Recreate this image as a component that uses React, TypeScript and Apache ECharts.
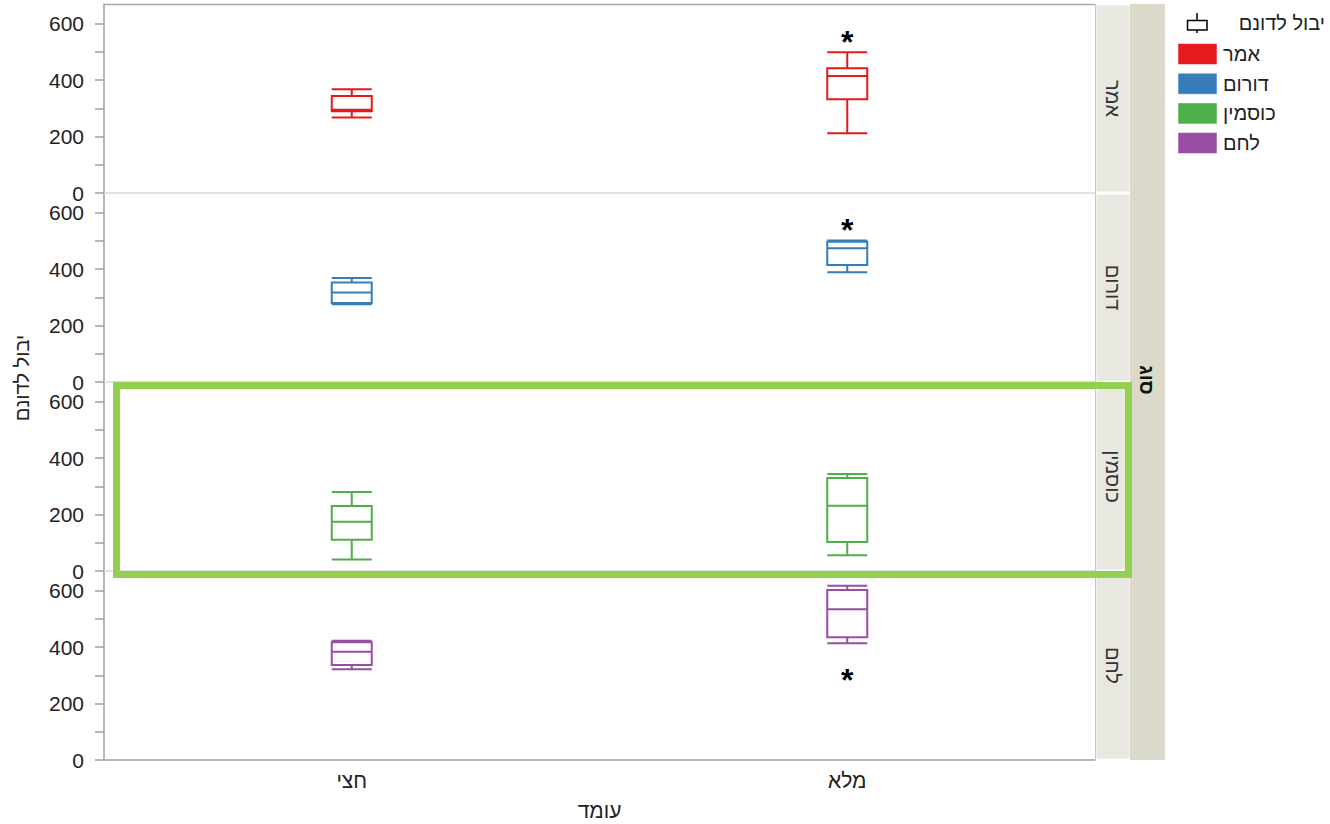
import React, { useEffect, useRef } from 'react';
import * as echarts from 'echarts';

const categories = ['חצי', 'מלא'];
const panelNames = ['אמר', 'דורום', 'כוסמין', 'לחם'];
const panelColors = ['#e41a1c', '#377eb8', '#4daf4a', '#984ea3'];
// [min, Q1, median, Q3, max] for חצי, מלא
const emmerBoxes = [[268, 290, 295, 344, 368], [212, 332, 415, 442, 499]];
const durumBoxes = [[276, 280, 317, 353, 369], [389, 415, 474, 497, 502]];
const kusminBoxes = [[41, 111, 175, 230, 280], [56, 103, 231, 330, 344]];
const lechemBoxes = [[322, 337, 384, 417, 423], [414, 435, 534, 603, 618]];
const emmerOutliers = [['מלא', 554]];
const durumOutliers = [['מלא', 557]];
const kusminOutliers: any[] = [];
const lechemOutliers = [['מלא', 301]];
const yLabelValues = [0, 200, 400, 600];
const yTickValues = [0, 100, 200, 300, 400, 500, 600];
const yAxisTitle = 'יבול לדונם';
const xAxisTitle = 'עומד';
const stripTitle = 'סוג';
const legendTitle = 'יבול לדונם';

const FONT = 'Liberation Sans, Arial, sans-serif';

export default function App() {
  const ref = useRef<HTMLDivElement>(null);
  useEffect(() => {
    if (!ref.current) return;
    const chart = echarts.init(ref.current, null, { renderer: 'svg' });
    const boxes = [emmerBoxes, durumBoxes, kusminBoxes, lechemBoxes];
    const outliers = [emmerOutliers, durumOutliers, kusminOutliers, lechemOutliers];
    const L = 104, W = 991, T0 = 4, H = 189, YMAX = 670;

    const grids = panelNames.map((_, i) => ({
      left: L, width: W, top: T0 + H * i, height: H, show: false,
    }));
    const xAxes = panelNames.map((_, i) => {
      const last = i === 3;
      return {
        type: 'category', gridIndex: i, data: categories, boundaryGap: true,
        axisLine: { show: true, lineStyle: { color: last ? '#a0a0a0' : '#d9d9d9', width: 1.5 } },
        axisTick: { show: false },
        axisLabel: { show: last, fontSize: 21, color: '#222', fontFamily: FONT, margin: 10 },
        name: last ? xAxisTitle : '', nameLocation: 'middle', nameGap: 40,
        nameTextStyle: { fontSize: 21, color: '#222', fontFamily: FONT },
        splitLine: { show: false },
      };
    });
    const yAxes = panelNames.map((_, i) => ({
      type: 'value', gridIndex: i, min: 0, max: YMAX,
      axisLine: { show: true, lineStyle: { color: '#a0a0a0', width: 1.5 } },
      axisTick: { show: true, length: 9, customValues: yTickValues, lineStyle: { color: '#a0a0a0', width: 1.5 } },
      axisLabel: { customValues: yLabelValues, fontSize: 21, color: '#222', fontFamily: FONT, margin: 20 },
      splitLine: { show: false },
    }));
    const series: any[] = [];
    panelNames.forEach((_, i) => {
      series.push({
        type: 'boxplot', xAxisIndex: i, yAxisIndex: i, data: boxes[i],
        boxWidth: [40, 40],
        itemStyle: { color: '#fff', borderColor: panelColors[i], borderWidth: 2 },
        emphasis: { disabled: true },
      });
      series.push({
        type: 'scatter', xAxisIndex: i, yAxisIndex: i, data: outliers[i],
        symbolSize: 2, itemStyle: { color: 'rgba(0,0,0,0)' },
        label: { show: true, formatter: '*', position: 'inside', fontSize: 32, fontWeight: 'bold', color: '#000', fontFamily: FONT, offset: [0, 5], opacity: 1 },
        emphasis: { disabled: true },
      });
    });

    const graphic: any[] = [];
    graphic.push({ type: 'line', shape: { x1: L, y1: T0 + 0.5, x2: L + W, y2: T0 + 0.5 }, style: { stroke: '#a8a8a8', lineWidth: 1.5 }, z: 10 });
    graphic.push({ type: 'line', shape: { x1: L + W + 0.5, y1: T0, x2: L + W + 0.5, y2: T0 + 4 * H }, style: { stroke: '#c8c8c8', lineWidth: 1 }, z: 10 });
    graphic.push({ type: 'rect', shape: { x: 1130, y: T0, width: 35, height: 4 * H }, style: { fill: '#dbd9c9' } });
    panelNames.forEach((name, i) => {
      graphic.push({ type: 'rect', shape: { x: 1096.5, y: T0 + H * i + 1.5, width: 33, height: H - 3 }, style: { fill: '#e8e8e1', stroke: '#f3f3ef', lineWidth: 1 } });
      graphic.push({ type: 'text', x: 1113, y: T0 + H * i + H / 2, rotation: -Math.PI / 2,
        style: { text: name, fontSize: 20, fill: '#333', fontFamily: FONT, align: 'center', verticalAlign: 'middle' } });
    });
    graphic.push({ type: 'text', x: 1147, y: 380, rotation: -Math.PI / 2,
      style: { text: stripTitle, fontSize: 20, fontWeight: 'bold', fill: '#111', fontFamily: FONT, align: 'center', verticalAlign: 'middle' } });
    graphic.push({ type: 'text', x: 22, y: 378, rotation: Math.PI / 2,
      style: { text: yAxisTitle, fontSize: 20, fill: '#222', fontFamily: FONT, align: 'center', verticalAlign: 'middle' } });
    // legend
    graphic.push({ type: 'line', shape: { x1: 1197, y1: 13, x2: 1197, y2: 33 }, style: { stroke: '#000', lineWidth: 1.5 } });
    graphic.push({ type: 'rect', shape: { x: 1187.5, y: 20.5, width: 19.5, height: 9.5 }, style: { fill: '#fff', stroke: '#000', lineWidth: 1.5 } });
    graphic.push({ type: 'text', x: 1325, y: 23, style: { text: legendTitle, fontSize: 20, fill: '#222', fontFamily: FONT, align: 'right', verticalAlign: 'middle' } });
    panelNames.forEach((name, i) => {
      const cy = 54 + 29.7 * i;
      graphic.push({ type: 'rect', shape: { x: 1178, y: cy - 10.5, width: 39, height: 21 }, style: { fill: panelColors[i], stroke: 'rgba(255,255,255,0.5)', lineWidth: 1 } });
      graphic.push({ type: 'text', x: 1223, y: cy, style: { text: name, fontSize: 20, fill: '#222', fontFamily: FONT, align: 'left', verticalAlign: 'middle' } });
    });
    // highlight frame
    graphic.push({ type: 'rect', shape: { x: 116.5, y: 385.5, width: 1012, height: 189 }, style: { fill: 'none', stroke: '#92d050', lineWidth: 7 }, z: 100 });

    chart.setOption({
      animation: false,
      backgroundColor: '#fff',
      grid: grids, xAxis: xAxes, yAxis: yAxes, series, graphic,
    });
    return () => chart.dispose();
  }, []);
  return <div ref={ref} style={{ position: 'absolute', left: 0, top: 0, width: 1330, height: 824, background: '#fff' }} />;
}
